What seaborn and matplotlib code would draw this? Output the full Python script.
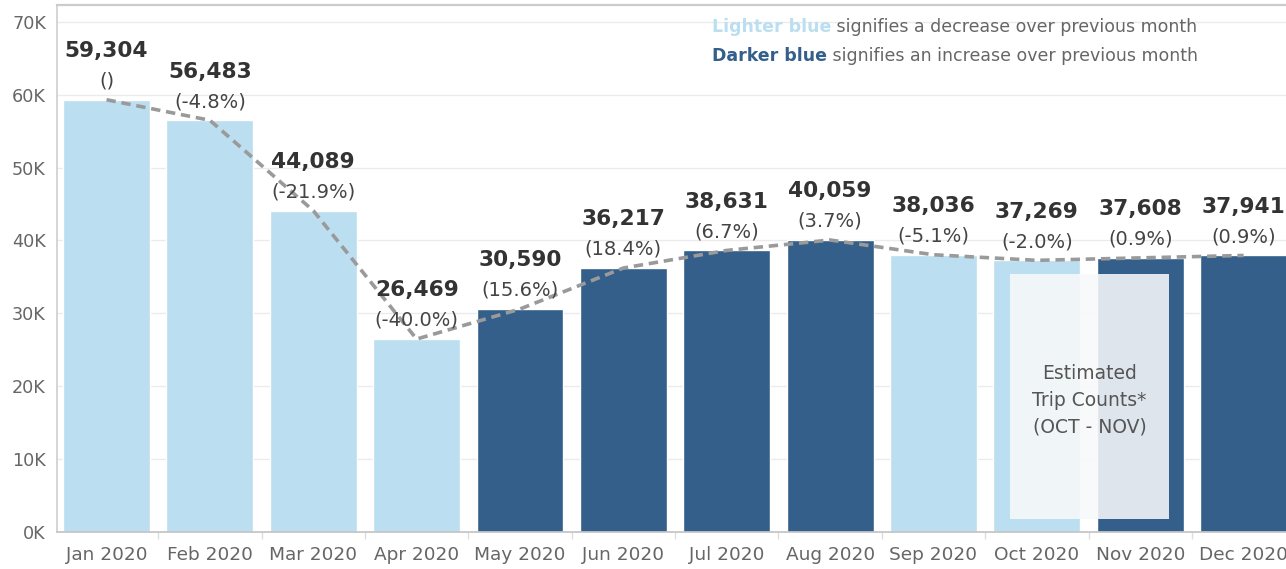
import matplotlib
matplotlib.use("Agg")
import matplotlib.pyplot as plt
import seaborn as sns
import numpy as np
import pandas as pd
from matplotlib.ticker import FuncFormatter, FixedLocator
from matplotlib.patches import Rectangle

# ---- data ----
months = ["Jan 2020", "Feb 2020", "Mar 2020", "Apr 2020", "May 2020", "Jun 2020",
          "Jul 2020", "Aug 2020", "Sep 2020", "Oct 2020", "Nov 2020", "Dec 2020"]
trips = [59304, 56483, 44089, 26469, 30590, 36217, 38631, 40059, 38036, 37269, 37608, 37941]
pct_labels = ["()", "(-4.8%)", "(-21.9%)", "(-40.0%)", "(15.6%)", "(18.4%)",
              "(6.7%)", "(3.7%)", "(-5.1%)", "(-2.0%)", "(0.9%)", "(0.9%)"]
y_ticks = [0, 10000, 20000, 30000, 40000, 50000, 60000, 70000]
estimate_note = "Estimated\nTrip Counts*\n(OCT - NOV)"
estimate_months = ["Oct 2020", "Nov 2020"]

LIGHT = "#BBDEF0"
DARK = "#335F8A"

direction = ["decrease" if i == 0 or trips[i] < trips[i - 1] else "increase"
             for i in range(len(trips))]
df = pd.DataFrame({"month": months, "trips": trips, "direction": direction})

sns.set_theme(style="white")
plt.rcParams["font.family"] = ["DejaVu Sans"]

W, H = 1286, 569
fig = plt.figure(figsize=(W / 100, H / 100), dpi=100)
ax = fig.add_axes([57 / W, 37 / H, 1 - 57 / W, (532 - 5) / H])

sns.barplot(data=df, x="month", y="trips", hue="direction", order=months,
            palette={"decrease": LIGHT, "increase": DARK}, dodge=False,
            saturation=1, width=0.84, legend=False, ax=ax, zorder=2)

# dashed trend line through the values
xs = np.arange(len(months))
sns.lineplot(x=xs, y=trips, ax=ax, color="#9A9A9A", lw=2.6, zorder=3)
ax.lines[-1].set_dashes((2.6, 1.6))

# labels
for i, (v, p) in enumerate(zip(trips, pct_labels)):
    ax.annotate(f"{v:,}", xy=(i, v), xytext=(0, 35), textcoords="offset points",
                ha="center", va="center", fontsize=15.6, fontweight="bold",
                color="#333333", zorder=6, annotation_clip=False)
    ax.annotate(p, xy=(i, v), xytext=(0, 13.5), textcoords="offset points",
                ha="center", va="center", fontsize=14, color="#444444",
                zorder=6, annotation_clip=False)

# estimate box over Oct - Nov
i0 = months.index(estimate_months[0])
i1 = months.index(estimate_months[1])
ax.add_patch(Rectangle((i0 - 0.26, 1800), (i1 - i0) + 0.54, 33600,
                       facecolor="#F8F9FA", alpha=0.88, edgecolor="none", zorder=5))
ax.text((i0 + i1) / 2 + 0.01, 18100, estimate_note, ha="center", va="center",
        fontsize=13.5, color="#555555", linespacing=1.5, zorder=6)

# axes styling
ax.set_xlim(-0.479, 11.41)
ax.set_ylim(0, 72300)
ax.yaxis.set_major_locator(FixedLocator(y_ticks))
ax.yaxis.set_major_formatter(FuncFormatter(lambda v, _: f"{int(round(v / 1000))}K"))
ax.yaxis.grid(True, color="#EBEBEB", lw=1)
ax.set_axisbelow(True)
ax.set_xlabel("")
ax.set_ylabel("")
ax.tick_params(axis="y", length=0, pad=8, labelsize=12.7, labelcolor="#666666")
ax.tick_params(axis="x", which="major", length=0, pad=10, labelsize=13.3, labelcolor="#666666")
ax.xaxis.set_minor_locator(FixedLocator(np.arange(len(months) - 1) + 0.5))
ax.tick_params(axis="x", which="minor", length=5, width=1, color="#DDDDDD", bottom=True)
ax.spines["left"].set_color("#D0D0D0")
ax.spines["bottom"].set_color("#C4C4C4")
ax.spines["top"].set_color("#CCCCCC")
ax.spines["top"].set_linewidth(1.6)
ax.spines["right"].set_visible(False)

# color legend text
t1 = fig.text(712 / W, 1 - 36 / H, "Lighter blue", fontsize=12.5, fontweight="bold",
              color=LIGHT, va="bottom", ha="left")
ax.annotate(" signifies a decrease over previous month", xy=(1, 0), xycoords=t1,
            va="bottom", ha="left", fontsize=12.5, color="#666666")
t2 = fig.text(712 / W, 1 - 65 / H, "Darker blue", fontsize=12.5, fontweight="bold",
              color=DARK, va="bottom", ha="left")
ax.annotate(" signifies an increase over previous month", xy=(1, 0), xycoords=t2,
            va="bottom", ha="left", fontsize=12.5, color="#666666")

fig.savefig("out.png", dpi=100)
